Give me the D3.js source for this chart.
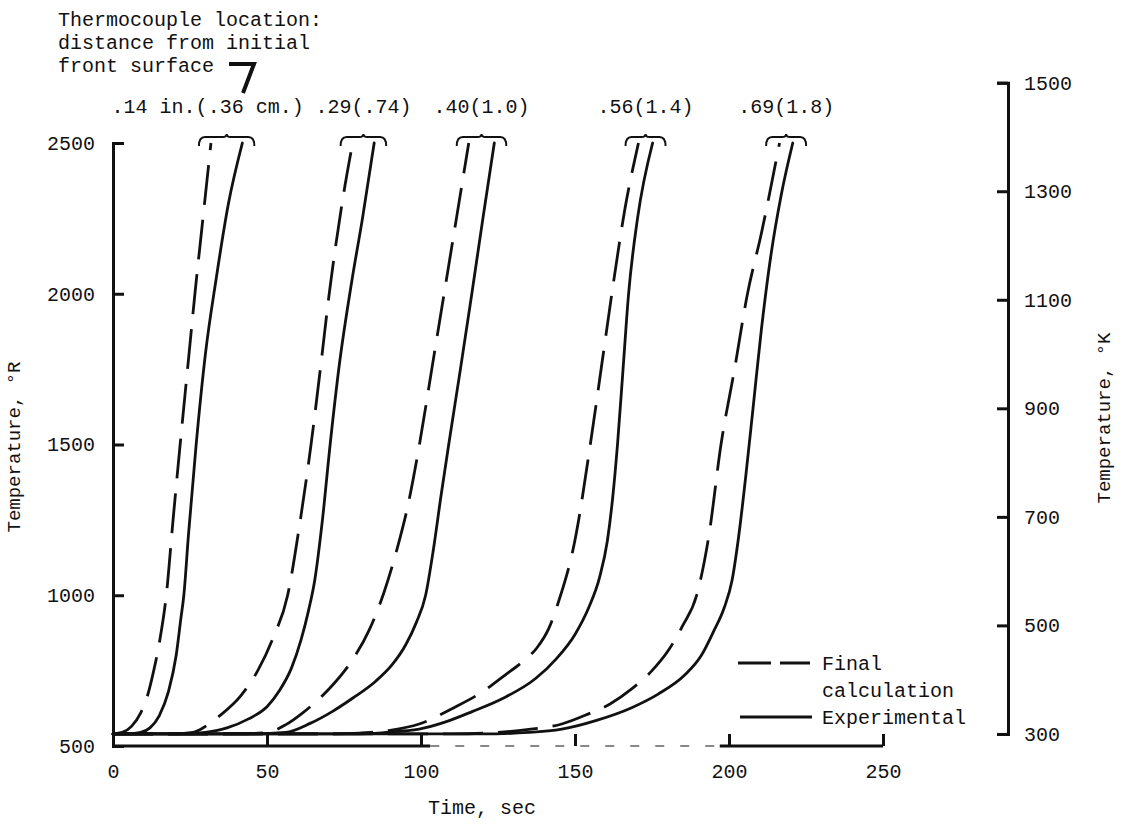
<!DOCTYPE html>
<html>
<head>
<meta charset="utf-8">
<script src="https://cdn.jsdelivr.net/npm/d3@7"></script>
<style>
  body { margin: 0; background: #fff; }
  text { font-family: "Liberation Mono", "DejaVu Sans Mono", monospace; fill: #111; }
  .tick text { font-size: 20px; }
</style>
</head>
<body>
<div id="maincontent"></div>
<script>
var width = 1132, height = 824;

// time in sec, temperature in deg R
// calc = final calculation (dashed), exp = experimental (solid)
var calcTime14 = [0, 3, 6, 9, 11, 13, 15, 17.3, 19.5, 21.8, 24.2, 26.6, 29.2, 31.8];
var calcTemp14 = [540, 545, 565, 610, 660, 740, 840, 1000, 1250, 1500, 1750, 2000, 2250, 2500];
var expTime14  = [0, 5, 9, 12, 15, 18, 20.5, 22, 23, 24.5, 27, 30, 33.5, 37.5, 42];
var expTemp14  = [540, 540, 545, 560, 600, 680, 800, 920, 1000, 1200, 1500, 1800, 2050, 2300, 2500];

var calcTime29 = [0, 20, 26, 30, 34.6, 41.6, 47, 51.9, 56.7, 60.5, 64.3, 67.5, 70.2, 74.5, 77.8];
var calcTemp29 = [540, 540, 545, 565, 600, 668, 750, 857, 1000, 1228, 1500, 1766, 2000, 2308, 2500];
var expTime29  = [0, 25, 30, 37, 44, 50, 54, 58, 61, 63.5, 65.5, 68, 70.5, 73.5, 77.5, 81, 84.8];
var expTemp29  = [540, 540, 545, 560, 590, 630, 683, 760, 850, 950, 1050, 1250, 1500, 1766, 2040, 2250, 2500];

var calcTime40 = [0, 40, 50, 56, 61.6, 66, 70.2, 77, 83.2, 88, 92.3, 95.8, 99.5, 103.5, 107.5, 111.5, 115.5];
var calcTemp40 = [540, 540, 545, 570, 610, 648, 690, 775, 885, 1010, 1156, 1300, 1500, 1750, 2000, 2250, 2500];
var expTime40  = [0, 45, 56, 64, 71.3, 78, 85.3, 90.5, 95, 98.5, 101.5, 104, 106.5, 109, 112.8, 116.5, 120.1, 123.8];
var expTemp40  = [540, 540, 545, 575, 615, 660, 715, 768, 835, 910, 1000, 1150, 1330, 1500, 1750, 2000, 2250, 2500];

var calcTime56 = [0, 70, 80, 90, 99.4, 110.7, 120, 127.4, 133, 137.6, 141.5, 144.7, 150, 154.9, 158.7, 162.5, 166.2, 170.6];
var calcTemp56 = [540, 540, 543, 552, 573, 627, 680, 736, 780, 825, 890, 980, 1183, 1495, 1766, 2038, 2281, 2500];
var expTime56  = [0, 75, 85, 92, 99.4, 108, 116.6, 127, 137.1, 144, 150, 154.5, 158, 160.5, 162.3, 163.8, 165.6, 167.4, 170.3, 175.2];
var expTemp56  = [540, 540, 542, 548, 556, 580, 614, 660, 723, 790, 870, 960, 1060, 1180, 1330, 1500, 1750, 2000, 2250, 2500];

var calcTime69 = [0, 110, 125, 135, 145.7, 154, 161.5, 168.5, 175, 180.5, 185, 189.5, 193.5, 197.4, 201.8, 206, 210.5, 216.4];
var calcTemp69 = [540, 540, 545, 555, 573, 605, 640, 690, 750, 820, 900, 1000, 1200, 1500, 1750, 2000, 2200, 2500];
var expTime69  = [0, 120, 135, 145.7, 157, 168.4, 177, 185.7, 191, 195, 198.5, 201, 203.2, 205.5, 207.8, 210.5, 213.5, 217, 220.7];
var expTemp69  = [540, 540, 545, 556, 585, 627, 672, 736, 800, 880, 960, 1050, 1200, 1400, 1620, 1880, 2120, 2330, 2500];

var pairLabels   = [".14 in.(.36 cm.)", ".29(.74)", ".40(1.0)", ".56(1.4)", ".69(1.8)"];
var timeTicks    = [0, 50, 100, 150, 200, 250];
var rankineTicks = [500, 1000, 1500, 2000, 2500];
var kelvinTicks  = [300, 500, 700, 900, 1100, 1300, 1500];
var noteLines    = ["Thermocouple location:", "distance from initial", "front surface"];
var legendLabels = [["Final", "calculation"], ["Experimental"]];

function zip(t, v) { return t.map(function (d, i) { return [d, v[i]]; }); }

var pairs = [
  {calc: zip(calcTime14, calcTemp14), exp: zip(expTime14, expTemp14)},
  {calc: zip(calcTime29, calcTemp29), exp: zip(expTime29, expTemp29)},
  {calc: zip(calcTime40, calcTemp40), exp: zip(expTime40, expTemp40)},
  {calc: zip(calcTime56, calcTemp56), exp: zip(expTime56, expTemp56)},
  {calc: zip(calcTime69, calcTemp69), exp: zip(expTime69, expTemp69)}
];

var svg = d3.select("#maincontent").append("svg")
    .attr("width", width)
    .attr("height", height);

var x = d3.scaleLinear().domain([0, 250]).range([113, 883]);
var y = d3.scaleLinear().domain([500, 2500]).range([746, 143]);
// deg K on the right, lined up with deg R (R = 1.8 K)
var yK = d3.scaleLinear().domain([300, 1500]).range([y(300 * 1.8), y(1500 * 1.8)]);

var dash = "40,15";
var lw = 2.8;

// left axis, ticks pointing in
var yAxis = svg.append("g")
    .attr("transform", "translate(" + x(0) + ",0)")
    .call(d3.axisLeft(y).tickValues(rankineTicks).tickSize(-11).tickPadding(18).tickFormat(d3.format("d")));

// right axis
var kAxis = svg.append("g")
    .attr("transform", "translate(1008,0)")
    .call(d3.axisRight(yK).tickValues(kelvinTicks).tickSize(-11).tickPadding(16).tickFormat(d3.format("d")));

// bottom axis, ticks pointing up
var xAxis = svg.append("g")
    .attr("transform", "translate(0," + y(500) + ")")
    .call(d3.axisBottom(x).tickValues(timeTicks).tickSize(-12).tickPadding(18));
xAxis.select(".domain").remove();

// the scanned base line is broken up between 100 and 200 sec
var baseSolid = [[0, 103], [197, 250]];
baseSolid.forEach(function (s) {
  xAxis.append("line")
      .attr("x1", x(s[0])).attr("x2", x(s[1]))
      .attr("stroke", "#111").attr("stroke-width", 3);
});
xAxis.append("line")
    .attr("x1", x(103)).attr("x2", x(197))
    .attr("stroke", "#888").attr("stroke-width", 2)
    .attr("stroke-dasharray", "9,16");

[yAxis, kAxis, xAxis].forEach(function (a) {
  a.selectAll(".domain").attr("stroke", "#111").attr("stroke-width", 3);
  a.selectAll(".tick line").attr("stroke", "#111").attr("stroke-width", 3);
  a.selectAll(".tick text").attr("fill", "#111");
});

var line = d3.line()
    .x(function (d) { return x(d[0]); })
    .y(function (d) { return y(d[1]); })
    .curve(d3.curveMonotoneX);

var curves = svg.append("g").attr("fill", "none").attr("stroke", "#111")
    .attr("stroke-width", lw).attr("stroke-linecap", "round");

pairs.forEach(function (p, i) {
  curves.append("path").attr("d", line(p.exp));
  curves.append("path").attr("d", line(p.calc)).attr("stroke-dasharray", dash).attr("stroke-linecap", "butt");

  // brace over the pair
  var xa = x(p.calc[p.calc.length - 1][0]);
  var xb = x(p.exp[p.exp.length - 1][0]);
  var cx = (xa + xb) / 2;
  var hw = Math.max((xb - xa) / 2 + 12, 20);
  var yt = y(2500) - 6;
  svg.append("path")
      .attr("d", "M" + (cx - hw) + "," + (yt + 9) +
                 "Q" + (cx - hw) + "," + yt + "," + (cx - hw + 6) + "," + yt +
                 "H" + (cx - 4) +
                 "Q" + cx + "," + yt + "," + cx + "," + (yt - 3) +
                 "Q" + cx + "," + yt + "," + (cx + 4) + "," + yt +
                 "H" + (cx + hw - 6) +
                 "Q" + (cx + hw) + "," + yt + "," + (cx + hw) + "," + (yt + 9))
      .attr("fill", "none").attr("stroke", "#111").attr("stroke-width", 2);

  svg.append("text")
      .attr("x", i === 0 ? cx + 77 : cx)
      .attr("y", yt - 24)
      .attr("text-anchor", i === 0 ? "end" : "middle")
      .style("font-size", "20px")
      .text(pairLabels[i]);
});

// note in the top left corner
svg.append("g").selectAll("text")
    .data(noteLines)
    .enter().append("text")
    .attr("x", 58)
    .attr("y", function (d, i) { return 26 + i * 23; })
    .style("font-size", "20px")
    .text(function (d) { return d; });

svg.append("path")
    .attr("d", "M229,64H254L243,93")
    .attr("fill", "none").attr("stroke", "#111").attr("stroke-width", 4);

// axis titles
svg.append("text")
    .attr("transform", "translate(20," + 447 + ")rotate(-90)")
    .attr("text-anchor", "middle")
    .style("font-size", "19px")
    .text("Temperature, °R");

svg.append("text")
    .attr("transform", "translate(1110," + 418 + ")rotate(-90)")
    .attr("text-anchor", "middle")
    .style("font-size", "19px")
    .text("Temperature, °K");

svg.append("text")
    .attr("x", 482)
    .attr("y", 814)
    .attr("text-anchor", "middle")
    .style("font-size", "20px")
    .text("Time, sec");

// legend
var legend = svg.append("g");
legend.append("line")
    .attr("x1", 738).attr("x2", 810).attr("y1", 663).attr("y2", 663)
    .attr("stroke", "#111").attr("stroke-width", lw).attr("stroke-dasharray", "33,9,30");
legend.append("line")
    .attr("x1", 740).attr("x2", 812).attr("y1", 717).attr("y2", 717)
    .attr("stroke", "#111").attr("stroke-width", lw);
legend.append("text").attr("x", 822).attr("y", 670).style("font-size", "20px").text(legendLabels[0][0]);
legend.append("text").attr("x", 822).attr("y", 697).style("font-size", "20px").text(legendLabels[0][1]);
legend.append("text").attr("x", 822).attr("y", 724).style("font-size", "20px").text(legendLabels[1][0]);
</script>
</body>
</html>
